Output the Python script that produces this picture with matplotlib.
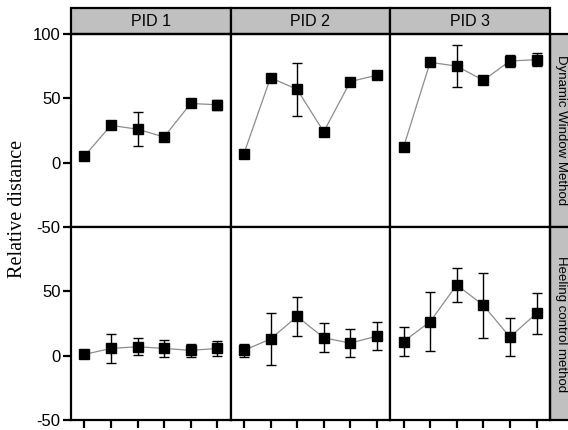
import numpy as np
import matplotlib.pyplot as plt
from matplotlib.patches import Rectangle

# data
steps = [1, 2, 3, 4, 5, 6]
pids = ["PID 1", "PID 2", "PID 3"]
methods = ["Dynamic Window Method", "Heeling control method"]

dwm_mean = [
    [5, 29, 26, 20, 46, 45],
    [7, 66, 57, 24, 63, 68],
    [12, 78, 75, 64, 79, 80],
]
dwm_err = [
    [0, 0, 13, 0, 0, 4],
    [0, 0, 20.5, 0, 0, 0],
    [0, 0, 16.3, 0, 4.6, 5.2],
]
hcm_mean = [
    [1, 5.7, 7, 5.7, 4.2, 5.7],
    [4.2, 13, 30.5, 14, 9.8, 15.3],
    [11, 26.5, 55, 39.3, 14.5, 33],
]
hcm_err = [
    [0, 11, 6.5, 6.7, 5, 5.8],
    [5, 20, 15.3, 11.4, 11, 10.8],
    [11.5, 22.7, 13.2, 25.3, 14.9, 16],
]

means = [dwm_mean, hcm_mean]
errs = [dwm_err, hcm_err]

plt.rcParams['font.family'] = ['Liberation Sans', 'DejaVu Sans']
plt.rcParams['axes.unicode_minus'] = False

fig, axes = plt.subplots(2, 3, figsize=(5.68, 4.3), dpi=100, sharex=True)
fig.subplots_adjust(left=0.125, right=0.968, top=0.921, bottom=0.023,
                    wspace=0, hspace=0)

strip_col = "#c0c0c0"

for r in range(2):
    for c in range(3):
        ax = axes[r, c]
        ax.plot(steps, means[r][c], color="#8c8c8c", lw=0.9, zorder=1)
        ax.errorbar(steps, means[r][c], yerr=errs[r][c], fmt="s", color="black",
                    ms=7.8, elinewidth=1, capsize=3.5, capthick=1, zorder=2)
        ax.set_xlim(0.5, 6.5)
        ax.set_ylim(-50, 100)
        for s in ax.spines.values():
            s.set_linewidth(1.6)
        ax.tick_params(axis="both", direction="out", length=5.5, width=1.6,
                       labelsize=12, pad=2)
        ax.set_xticks(steps)
        ax.tick_params(axis="x", labelbottom=False)
        if c == 0:
            if r == 0:
                ax.set_yticks([-50, 0, 50, 100])
            else:
                ax.set_yticks([-50, 0, 50])
        else:
            ax.tick_params(axis="y", left=False, labelleft=False)
        if r == 0:
            ax.tick_params(axis="x", bottom=False)
            # strip on top
            ax.add_patch(Rectangle((0, 1), 1, 0.135, transform=ax.transAxes,
                                   facecolor=strip_col, edgecolor="black",
                                   lw=1.6, clip_on=False))
            ax.text(0.5, 1.067, pids[c], transform=ax.transAxes, ha="center",
                    va="center", fontsize=11.5)
        if c == 2:
            ax.add_patch(Rectangle((1, 0), 0.2, 1, transform=ax.transAxes,
                                   facecolor=strip_col, edgecolor="black",
                                   lw=1.6, clip_on=False))
            ax.text(1.07, 0.5, methods[r], transform=ax.transAxes, ha="center",
                    va="center", rotation=-90, fontsize=9.5)

fig.text(0.03, 0.515, "Relative distance", rotation=90, ha="center",
         va="center", fontsize=14.5, family="Liberation Serif")

plt.savefig("out.png", dpi=100)
